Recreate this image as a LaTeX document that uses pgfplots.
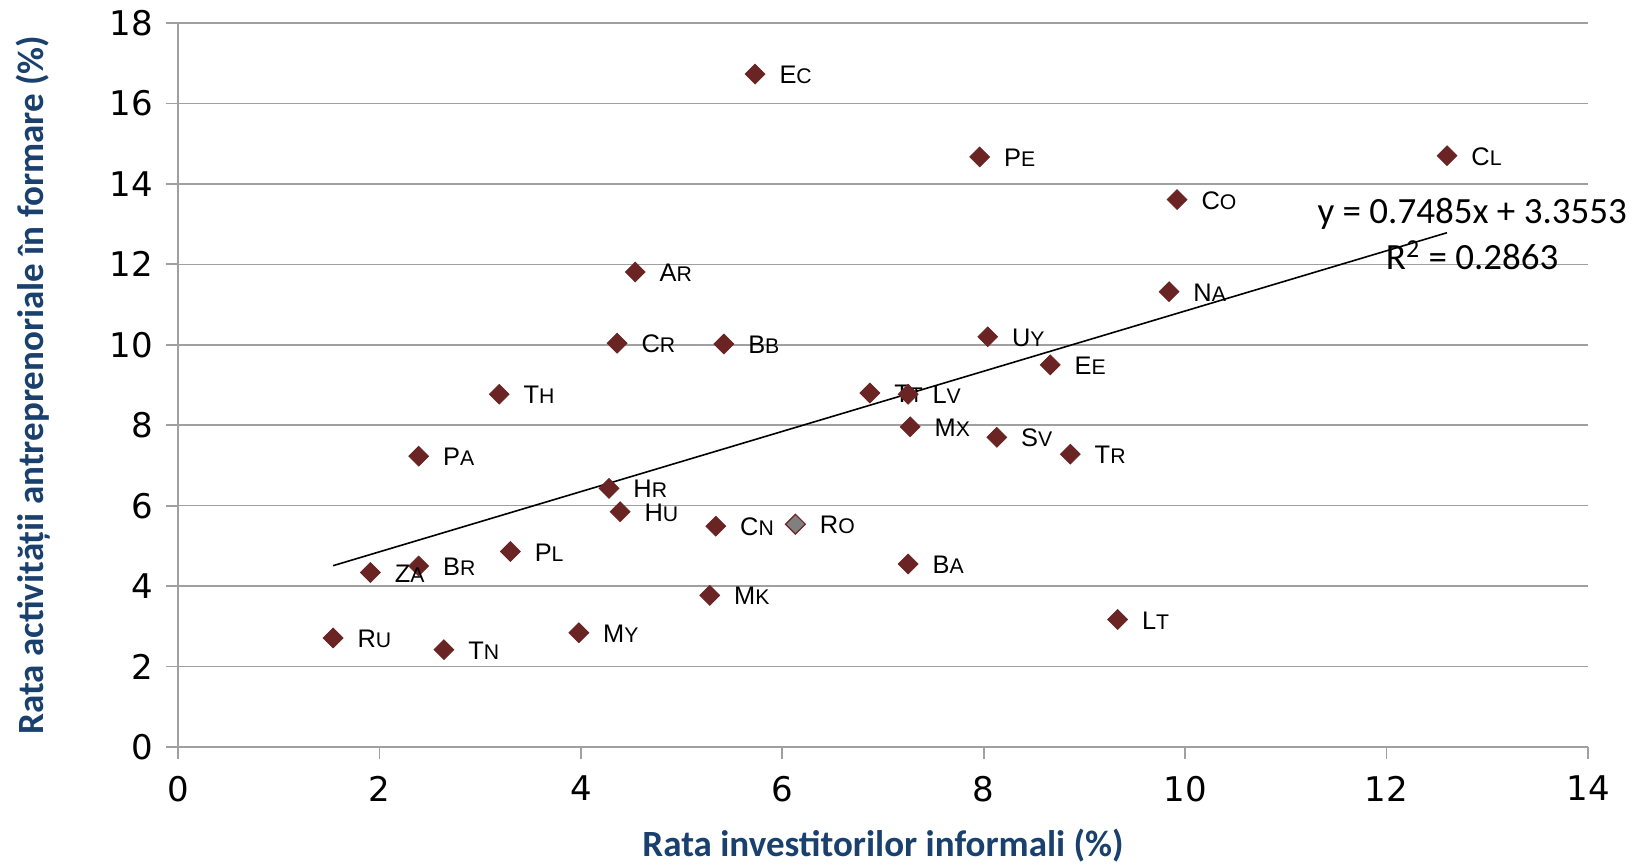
\documentclass[border=0pt]{standalone}
\usepackage{pgfplots}
\pgfplotsset{compat=1.18}
\usepackage{fontspec}
\setmainfont{Carlito}
\newfontfamily\dejavu{DejaVu Sans}
\newfontfamily\arialf{Liberation Sans}
\definecolor{mk}{RGB}{107,36,36}
\definecolor{ttl}{RGB}{26,64,110}
\definecolor{grd}{RGB}{160,160,160}
\DeclareRobustCommand\lbl[2]{{\arialf\fontsize{12.7}{12}\selectfont #1\fontsize{10.6}{12}\selectfont #2}}
\begin{document}
\begin{tikzpicture}
\begin{axis}[
  name=ax,
  scale only axis,
  width=705pt, height=362pt,
  xmin=0, xmax=14, ymin=0, ymax=18,
  xtick={0,2,...,14}, ytick={0,2,...,18},
  axis x line*=bottom, axis y line*=left,
  axis line style={draw=grd, line width=0.9pt, -},
  tick style={draw=grd, line width=0.9pt},
  tick align=outside, major tick length=6pt,
  ymajorgrids, grid style={draw=grd, line width=0.8pt},
  /pgf/number format/assume math mode=true,
  ticklabel style={font=\dejavu\fontsize{17}{17}\selectfont},
  xticklabel style={yshift=-5pt},
  yticklabel style={xshift=-3pt},
  xlabel={Rata investitorilor informali (\%)},
  ylabel={Rata activității antreprenoriale în formare (\%)},
  label style={font=\bfseries\fontsize{18.5}{18.5}\selectfont, text=ttl},
  xlabel style={at={(axis description cs:0.5,-0.1367)}, anchor=center},
  ylabel style={at={(axis description cs:-0.1028,0.5)}, anchor=center},
  clip=false,
  every node near coord/.append style={anchor=base west, xshift=12pt, yshift=-4.8pt, inner sep=0pt, text=black},
]
\addplot[black, line width=0.8pt] coordinates {(1.54,4.508) (12.6,12.786)};
\addplot[only marks, mark=square*, mark size=3.5pt, mark options={rotate=45, fill=mk, draw=mk},
  nodes near coords, point meta=explicit symbolic] coordinates {
(5.73,16.73) [\lbl{E}{C}]
(7.96,14.67) [\lbl{P}{E}]
(12.60,14.70) [\lbl{C}{L}]
(9.92,13.61) [\lbl{C}{O}]
(9.84,11.32) [\lbl{N}{A}]
(4.54,11.81) [\lbl{A}{R}]
(4.36,10.04) [\lbl{C}{R}]
(5.42,10.02) [\lbl{B}{B}]
(8.04,10.20) [\lbl{U}{Y}]
(8.66,9.50) [\lbl{E}{E}]
(3.19,8.77) [\lbl{T}{H}]
(6.87,8.80) [\lbl{T}{T}]
(7.25,8.77) [\lbl{L}{V}]
(7.27,7.96) [\lbl{M}{X}]
(8.13,7.70) [\lbl{S}{V}]
(8.86,7.28) [\lbl{T}{R}]
(2.39,7.23) [\lbl{P}{A}]
(4.28,6.43) [\lbl{H}{R}]
(4.39,5.85) [\lbl{H}{U}]
(5.34,5.49) [\lbl{C}{N}]
(3.30,4.86) [\lbl{P}{L}]
(2.39,4.50) [\lbl{B}{R}]
(1.91,4.34) [\lbl{Z}{A}]
(7.25,4.55) [\lbl{B}{A}]
(5.28,3.77) [\lbl{M}{K}]
(9.33,3.17) [\lbl{L}{T}]
(1.54,2.71) [\lbl{R}{U}]
(2.64,2.42) [\lbl{T}{N}]
(3.98,2.84) [\lbl{M}{Y}]
};
\addplot[only marks, mark=square*, mark size=3.5pt, mark options={rotate=45, fill=gray, draw=mk, line width=0.6pt},
  nodes near coords, point meta=explicit symbolic] coordinates {
(6.13,5.54) [\lbl{R}{O}]
};
\node[font=\fontsize{18.5}{23}\selectfont, align=center, inner sep=0pt] at (axis cs:12.85,12.75) {y = 0.7485x + 3.3553\\R\textsuperscript{2} = 0.2863};
\end{axis}
\pgfresetboundingbox
\path[use as bounding box] ([shift={(-89pt,-60pt)}]ax.south west) rectangle ([shift={(26.5pt,11.5pt)}]ax.north east);
\end{tikzpicture}
\end{document}
